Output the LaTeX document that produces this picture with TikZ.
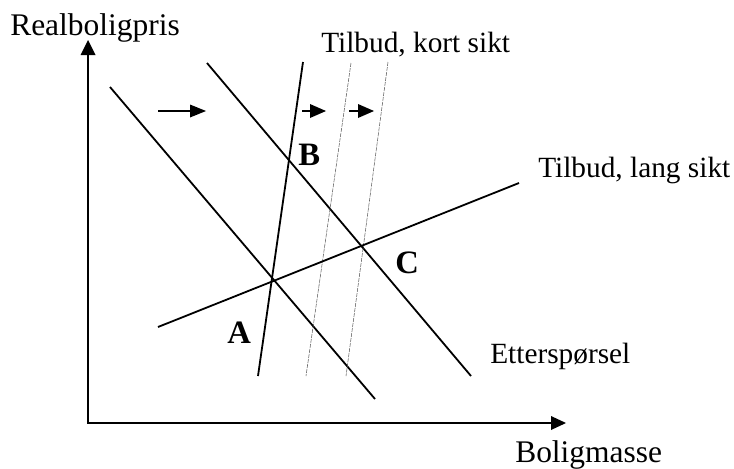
\documentclass[tikz,border=0pt]{standalone}
\usepackage{fontspec}
\setmainfont{Liberation Serif}
\begin{document}
\begin{tikzpicture}[x=0.75pt,y=0.75pt,yscale=-1,xscale=1]
        \useasboundingbox (0,0) rectangle (734,468);
        % axes
        \draw [line width=1.6pt]   (88,423) -- (88,52) ;
        \draw [shift={(88,40)}, rotate = 90] [fill={rgb, 255:red, 0; green, 0; blue, 0 }  ][line width=0.08]  [draw opacity=0] (15,-7.5) -- (0,0) -- (15,7.5) -- cycle    ;
        \draw [line width=1.6pt]   (87,423) -- (554,423) ;
        \draw [shift={(566,423)}, rotate = 180] [fill={rgb, 255:red, 0; green, 0; blue, 0 }  ][line width=0.08]  [draw opacity=0] (15,-7) -- (0,0) -- (15,7) -- cycle    ;
        % demand
        \draw [line width=1.35pt]   (110,87) -- (375,399) ;
        \draw [line width=1.35pt]   (207,63) -- (471,376) ;
        % supply
        \draw [line width=1.35pt]   (303,62) -- (258,376) ;
        \draw [color={rgb, 255:red, 90; green, 90; blue, 90 }  ][line width=0.4pt] [dash pattern={on 3pt off 0.8pt}]  (351,63) -- (306,376) ;
        \draw [color={rgb, 255:red, 90; green, 90; blue, 90 }  ][line width=0.4pt] [dash pattern={on 3pt off 0.8pt}]  (388,62) -- (346,376) ;
        \draw [line width=1.35pt]   (158,327) -- (519,183) ;
        % shifts
        \draw [line width=1.5pt]   (158,111) -- (194,111) ;
        \draw [shift={(206,111)}, rotate = 180] [fill={rgb, 255:red, 0; green, 0; blue, 0 }  ][line width=0.08]  [draw opacity=0] (16,-6.5) -- (0,0) -- (16,6.5) -- cycle    ;
        \draw [line width=1.5pt]   (302,111) -- (314,111) ;
        \draw [shift={(326,111)}, rotate = 180] [fill={rgb, 255:red, 0; green, 0; blue, 0 }  ][line width=0.08]  [draw opacity=0] (16,-7) -- (0,0) -- (16,7) -- cycle    ;
        \draw [line width=1.5pt]   (349,111) -- (362,111) ;
        \draw [shift={(374,111)}, rotate = 180] [fill={rgb, 255:red, 0; green, 0; blue, 0 }  ][line width=0.08]  [draw opacity=0] (16,-7) -- (0,0) -- (16,7) -- cycle    ;
        % labels
        \draw (10,35) node (ylab) [anchor=base west][inner sep=0pt]   {\fontsize{23.6}{28}\selectfont Realboligpris};
        \draw (515,462) node (xlab) [anchor=base west][inner sep=0pt]   {\fontsize{23.6}{28}\selectfont Boligmasse};
        \draw (321,52) node (kort) [anchor=base west][inner sep=0pt]   {\fontsize{22}{26}\selectfont Tilbud, kort sikt};
        \draw (538,177) node (lang) [anchor=base west][inner sep=0pt]   {\fontsize{22}{26}\selectfont Tilbud, lang sikt};
        \draw (490,363) node (ettersp) [anchor=base west][inner sep=0pt]   {\fontsize{22}{26}\selectfont Etterspørsel};
        \draw (298,165) node (ptB) [anchor=base west][inner sep=0pt]   {\fontsize{24.5}{29}\selectfont\bfseries B};
        \draw (227,343) node (ptA) [anchor=base west][inner sep=0pt]   {\fontsize{24.5}{29}\selectfont\bfseries A};
        \draw (395,273) node (ptC) [anchor=base west][inner sep=0pt]   {\fontsize{24.5}{29}\selectfont\bfseries C};
\end{tikzpicture}
\end{document}
